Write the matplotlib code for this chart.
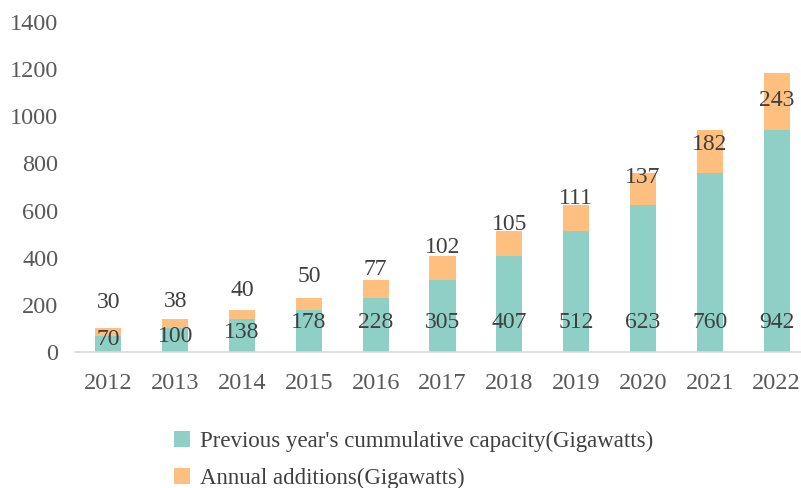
import matplotlib
matplotlib.use("Agg")
import matplotlib.pyplot as plt
import numpy as np

years = ["2012", "2013", "2014", "2015", "2016", "2017", "2018", "2019", "2020", "2021", "2022"]
previous = [70, 100, 138, 178, 228, 305, 407, 512, 623, 760, 942]
annual = [30, 38, 40, 50, 77, 102, 105, 111, 137, 182, 243]
# label placement heights (data units)
prev_label_y = [51, 64, 81, 127, 127, 127, 127, 127, 127, 127, 127]
annual_label_y = [208, 216, 259, 322, 348, 445, 543, 653, 742, 882, 1069]

teal = "#8ECFC6"
orange = "#FFBF7F"

plt.rcParams['font.family'] = ['Liberation Serif', 'DejaVu Serif']

fig = plt.figure(figsize=(8.01, 4.88), dpi=100)
ax = fig.add_axes([75/801, (488-352)/488, (810-75)/801, (352-22)/488])

x = np.arange(len(years))
w = 0.39
b1 = ax.bar(x, previous, w, color=teal, label="Previous year's cummulative capacity(Gigawatts)", zorder=2)
b2 = ax.bar(x, annual, w, bottom=previous, color=orange, label="Annual additions(Gigawatts)", zorder=2)

for i in range(len(years)):
    ax.text(x[i], prev_label_y[i], str(previous[i]), ha='center', va='center', fontsize=17, color='#404040', zorder=3)
    ax.text(x[i], annual_label_y[i], str(annual[i]), ha='center', va='center', fontsize=17, color='#404040', zorder=3)

ax.set_xlim(-0.5, 10.5)
ax.set_ylim(0, 1400)
ax.set_yticks(range(0, 1401, 200))
ax.set_xticks(x)
ax.set_xticklabels(years)
for s in ['top', 'right', 'left']:
    ax.spines[s].set_visible(False)
ax.spines['bottom'].set_color('#d9d9d9')
ax.spines['bottom'].set_linewidth(1.2)
ax.tick_params(axis='both', length=0, labelsize=17.5, colors='#595959')
ax.tick_params(axis='y', pad=12)
ax.tick_params(axis='x', pad=15)

fig.legend(handles=[b1, b2], loc='upper left', bbox_to_anchor=(153/801, 1 - 410/488),
           frameon=False, fontsize=16.5, handlelength=0.7, handleheight=0.7,
           handletextpad=0.45, labelspacing=0.7, labelcolor='#404040')

fig.savefig("out.png", dpi=100)
